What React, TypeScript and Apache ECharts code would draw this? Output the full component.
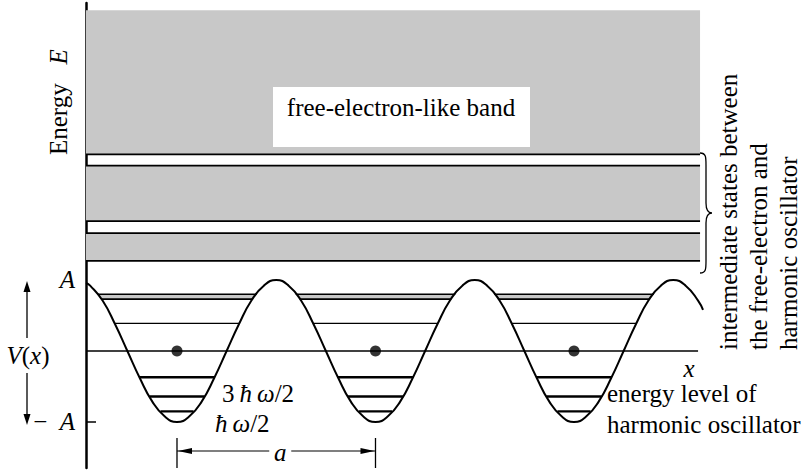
import React, { useEffect, useRef } from "react";
import * as echarts from "echarts";

// ---- data (x in units of the lattice period a, energy in units of A) ----
const bandRanges: number[][] = [
  [2.77, 4.8],
  [1.83, 2.61],
  [1.27, 1.66],
];
const hoStrip: number[] = [0.73, 0.8];
const hoLevels: number[] = [0.39, -0.37, -0.64, -0.85];
const wellCentres: number[] = [0, 1, 2];
const zeroLine: number[][] = [
  [-0.4584, 0],
  [2.625, 0],
];
const yTickValues: number[] = [1, -1];
const potential: number[][] = [
  [-0.458, 0.96], [-0.4375, 0.92], [-0.375, 0.71], [-0.3125, 0.38], [-0.25, 0],
  [-0.1875, -0.38], [-0.125, -0.71], [-0.0625, -0.92], [0, -1],
  [0.0625, -0.92], [0.125, -0.71], [0.1875, -0.38], [0.25, 0],
  [0.3125, 0.38], [0.375, 0.71], [0.4375, 0.92], [0.5, 1],
  [0.5625, 0.92], [0.625, 0.71], [0.6875, 0.38], [0.75, 0],
  [0.8125, -0.38], [0.875, -0.71], [0.9375, -0.92], [1, -1],
  [1.0625, -0.92], [1.125, -0.71], [1.1875, -0.38], [1.25, 0],
  [1.3125, 0.38], [1.375, 0.71], [1.4375, 0.92], [1.5, 1],
  [1.5625, 0.92], [1.625, 0.71], [1.6875, 0.38], [1.75, 0],
  [1.8125, -0.38], [1.875, -0.71], [1.9375, -0.92], [2, -1],
  [2.0625, -0.92], [2.125, -0.71], [2.1875, -0.38], [2.25, 0],
  [2.3125, 0.38], [2.375, 0.71], [2.4375, 0.92], [2.5, 1],
  [2.5625, 0.92], [2.625, 0.71], [2.65, 0.58],
];

// ---- layout / style ----
const X_MIN = -0.4584;
const X_MAX = 2.665;
const Y_MIN = -1.648;
const Y_MAX = 4.901;
const BAND_END = 2.635;
const SERIF = "Liberation Serif";
const SHADE = "#c8c8c8";
const FS = 25;

function crossing(level: number, centre: number, dir: number): number {
  let i = potential.findIndex((p) => p[0] >= centre);
  while (i + dir >= 0 && i + dir < potential.length) {
    const a = potential[i];
    const b = potential[i + dir];
    if (b[1] >= level) {
      const t = (level - a[1]) / (b[1] - a[1]);
      return a[0] + t * (b[0] - a[0]);
    }
    i += dir;
  }
  return potential[i][0];
}

function seg(a: number[], b: number[], w: number) {
  return {
    type: "line",
    shape: { x1: a[0], y1: a[1], x2: b[0], y2: b[1] },
    style: { stroke: "#000", lineWidth: w },
  };
}

const richStyles = {
  i: { fontStyle: "italic", fontSize: FS, fontFamily: SERIF, fill: "#000", color: "#000" },
  n: { fontStyle: "normal", fontSize: FS, fontFamily: SERIF, fill: "#000", color: "#000" },
};

function label(text: string, x: number, y: number, extra: any = {}) {
  const style: any = {
    text,
    fill: "#000",
    fontSize: FS,
    fontFamily: SERIF,
    fontStyle: extra.italic ? "italic" : "normal",
    align: extra.align || "left",
    verticalAlign: "middle",
  };
  if (extra.rich) style.rich = richStyles;
  return {
    type: "text",
    x,
    y,
    rotation: extra.rotation || 0,
    style,
    z: 10,
  };
}

echarts.graphic.registerShape(
  "brace",
  echarts.graphic.extendPath(
    "M0,0 C6,0 6,4 6,12 L6,50 C6,56 8,60 12,60 C8,60 6,64 6,70 L6,108 C6,116 6,120 0,120",
    {}
  )
);

export default function App() {
  const ref = useRef<HTMLDivElement>(null);
  useEffect(() => {
    if (!ref.current) return;
    const chart = echarts.init(ref.current, null, { renderer: "svg" });
    chart.setOption({
      animation: false,
      backgroundColor: "#fff",
      grid: { left: 86, right: 102, top: 3, bottom: 5 },
      xAxis: {
        type: "value",
        min: X_MIN,
        max: X_MAX,
        show: false,
      },
      yAxis: {
        type: "value",
        min: Y_MIN,
        max: Y_MAX,
        splitLine: { show: false },
        axisLine: { show: true, onZero: false, lineStyle: { color: "#000", width: 2.5 } },
        axisTick: {
          show: true,
          inside: true,
          length: 10,
          customValues: [-1],
          lineStyle: { color: "#000", width: 1.5 },
        },
        axisLabel: {
          customValues: yTickValues,
          margin: 11,
          color: "#000",
          fontSize: FS,
          fontFamily: SERIF,
          formatter: (v: number) => (v > 0 ? "{i|A}" : "{n|\u2212\u00a0\u00a0}{i|A}"),
          rich: {
            i: { fontStyle: "italic", fontSize: FS, fontFamily: SERIF, color: "#000" },
            n: { fontSize: FS, fontFamily: SERIF, color: "#000" },
          },
        },
      },
      series: [
        {
          type: "custom",
          name: "bands",
          data: bandRanges,
          silent: true,
          renderItem: (params: any, api: any) => {
            const lo = api.value(0);
            const hi = api.value(1);
            const p0 = api.coord([X_MIN, hi]);
            const p1 = api.coord([BAND_END, lo]);
            const children: any[] = [
              {
                type: "rect",
                shape: { x: p0[0], y: p0[1], width: p1[0] - p0[0], height: p1[1] - p0[1] },
                style: { fill: SHADE },
              },
              seg([p0[0], p1[1]], [p1[0], p1[1]], 1.8),
            ];
            if (params.dataIndex > 0) children.push(seg([p0[0], p0[1]], [p1[0], p0[1]], 1.8));
            return { type: "group", children };
          },
        },
        {
          type: "custom",
          name: "levels",
          data: wellCentres.map((c) => [c, 0]),
          silent: true,
          renderItem: (params: any, api: any) => {
            const k = api.value(0);
            const [s0, s1] = hoStrip;
            const a0 = api.coord([crossing(s0, k, -1), s0]);
            const b0 = api.coord([crossing(s0, k, 1), s0]);
            const a1 = api.coord([crossing(s1, k, -1), s1]);
            const b1 = api.coord([crossing(s1, k, 1), s1]);
            const children: any[] = [
              { type: "polygon", shape: { points: [a0, b0, b1, a1] }, style: { fill: SHADE } },
              seg(a0, b0, 1.6),
              seg(a1, b1, 1.6),
            ];
            hoLevels.forEach((lv, i) => {
              const a = api.coord([crossing(lv, k, -1), lv]);
              const b = api.coord([crossing(lv, k, 1), lv]);
              children.push(seg(a, b, i === 0 ? 1.2 : 2.4));
            });
            return { type: "group", children };
          },
        },
        {
          type: "line",
          name: "zero",
          data: zeroLine,
          showSymbol: false,
          silent: true,
          lineStyle: { color: "#000", width: 1.6 },
        },
        {
          type: "line",
          name: "V(x)",
          data: potential,
          smooth: 0.5,
          showSymbol: false,
          clip: false,
          silent: true,
          lineStyle: { color: "#000", width: 2 },
        },
        {
          type: "scatter",
          name: "ions",
          data: wellCentres.map((c) => [c, 0]),
          symbolSize: 11,
          itemStyle: { color: "#000" },
          silent: true,
        },
      ],
    });

    const p0 = chart.convertToPixel({ gridIndex: 0 }, [wellCentres[0], -1]) as number[];
    const p1 = chart.convertToPixel({ gridIndex: 0 }, [wellCentres[1], -1]) as number[];
    const xa = p0[0];
    const xb = p1[0];
    const mid = (xa + xb) / 2 + 4;
    const yd = 451;

    chart.setOption({
      graphic: [
        label("{n|Energy\u00a0\u00a0\u00a0}{i|E}", 58, 155, { rotation: Math.PI / 2, rich: true }),
        {
          type: "rect",
          shape: { x: 273, y: 87, width: 257, height: 60 },
          style: { fill: "#fff" },
          z: 9,
        },
        label("free-electron-like band", 401, 107.5, { align: "center" }),
        // V(x) with arrows
        label("{i|V}{n|(}{i|x}{n|)}", 28, 355, { align: "center", rich: true }),
        { type: "line", shape: { x1: 27, y1: 290, x2: 27, y2: 338 }, style: { stroke: "#000", lineWidth: 1.3 }, z: 10 },
        { type: "polygon", shape: { points: [[27, 281], [23.5, 292], [30.5, 292]] }, style: { fill: "#000" }, z: 10 },
        { type: "line", shape: { x1: 27, y1: 373, x2: 27, y2: 416 }, style: { stroke: "#000", lineWidth: 1.3 }, z: 10 },
        { type: "polygon", shape: { points: [[27, 425], [23.5, 414], [30.5, 414]] }, style: { fill: "#000" }, z: 10 },
        // x label
        label("x", 689, 368.5, { align: "center", italic: true }),
        // oscillator level labels
        label("{n|3\u2009}{i|\u0127\u2009\u03c9}{n|/2}", 222, 393.6, { rich: true }),
        label("{i|\u0127\u2009\u03c9}{n|/2}", 215, 423.6, { rich: true }),
        label("energy level of", 607, 393.6),
        label("harmonic oscillator", 607, 424.3),
        // lattice period dimension
        { type: "line", shape: { x1: xa, y1: 438, x2: xa, y2: 468 }, style: { stroke: "#000", lineWidth: 1.3 }, z: 10 },
        { type: "line", shape: { x1: xb, y1: 438, x2: xb, y2: 468 }, style: { stroke: "#000", lineWidth: 1.3 }, z: 10 },
        { type: "line", shape: { x1: xa, y1: yd, x2: mid - 11, y2: yd }, style: { stroke: "#000", lineWidth: 1.2 }, z: 10 },
        { type: "line", shape: { x1: mid + 11, y1: yd, x2: xb, y2: yd }, style: { stroke: "#000", lineWidth: 1.2 }, z: 10 },
        { type: "polygon", shape: { points: [[xa + 1, yd], [xa + 15, yd - 3], [xa + 15, yd + 3]] }, style: { fill: "#000" }, z: 10 },
        { type: "polygon", shape: { points: [[xb - 1, yd], [xb - 15, yd - 3], [xb - 15, yd + 3]] }, style: { fill: "#000" }, z: 10 },
        label("a", mid, 452.6, { align: "center", italic: true }),
        // brace and rotated description
        { type: "brace", x: 700, y: 153, style: { fill: "none", stroke: "#000", lineWidth: 1.3 }, z: 10 },
        label("intermediate states between", 728, 350, { rotation: Math.PI / 2 }),
        label("the free-electron and", 758, 350, { rotation: Math.PI / 2 }),
        label("harmonic oscillator", 788, 350, { rotation: Math.PI / 2 }),
      ],
    });

    return () => chart.dispose();
  }, []);

  return (
    <div
      ref={ref}
      style={{ position: "fixed", left: 0, top: 0, width: 808, height: 473, background: "#fff" }}
    />
  );
}
